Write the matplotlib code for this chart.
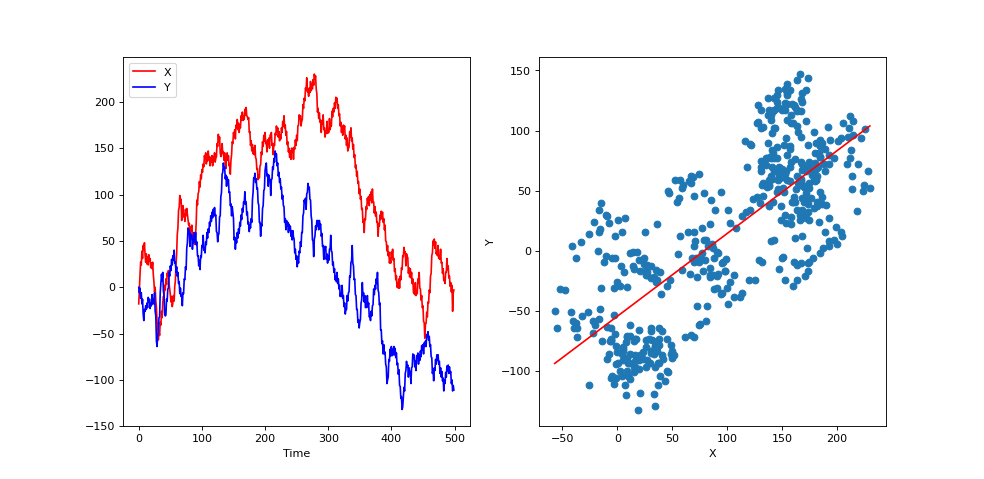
from matplotlib import pyplot as plt
import numpy as np

# random walk values, one per time step
x_walk = [
    -18, -2, 14, 27, 24, 39, 31, 45, 40, 48,
    35, 27, 36, 25, 33, 24, 35, 28, 31, 21,
    26, 20, 27, 14, 6, -5, 0, -15, -22, -37,
    -42, -57, -48, -52, -38, -41, -26, -33, -17, -10,
    -12, 2, -3, 9, 3, 15, 12, 18, 4, -2,
    -8, -16, -10, -21, -17, -9, -15, 1, 7, 25,
    36, 57, 64, 83, 86, 99, 91, 95, 72, 84,
    88, 76, 79, 71, 84, 77, 85, 79, 74, 67,
    69, 56, 65, 60, 67, 54, 59, 47, 53, 46,
    57, 70, 94, 89, 101, 103, 114, 108, 121, 117,
    127, 124, 133, 130, 142, 138, 145, 133, 139, 136,
    147, 138, 141, 131, 140, 135, 142, 131, 141, 136,
    145, 135, 139, 141, 155, 152, 165, 157, 162, 145,
    141, 143, 155, 145, 146, 137, 145, 131, 128, 140,
    145, 137, 142, 131, 133, 122, 137, 143, 157, 155,
    167, 163, 170, 160, 175, 172, 181, 170, 177, 167,
    175, 172, 185, 180, 189, 180, 185, 181, 192, 186,
    194, 185, 184, 181, 183, 167, 168, 153, 158, 147,
    154, 144, 150, 143, 153, 140, 138, 127, 128, 116,
    121, 118, 131, 132, 146, 143, 157, 152, 164, 158,
    167, 155, 157, 146, 159, 155, 161, 150, 164, 165,
    167, 153, 155, 143, 155, 153, 166, 164, 174, 168,
    172, 162, 168, 158, 164, 160, 172, 167, 179, 174,
    185, 172, 175, 164, 168, 154, 157, 146, 150, 140,
    147, 138, 150, 146, 150, 138, 151, 149, 159, 153,
    164, 158, 174, 175, 186, 182, 185, 174, 179, 181,
    197, 193, 204, 201, 215, 213, 226, 211, 212, 206,
    215, 210, 222, 212, 219, 214, 224, 218, 230, 225,
    228, 214, 209, 189, 193, 182, 188, 178, 180, 167,
    180, 176, 186, 170, 172, 162, 168, 166, 179, 166,
    168, 167, 182, 170, 175, 174, 190, 184, 193, 189,
    199, 193, 205, 200, 204, 193, 197, 185, 187, 174,
    178, 167, 173, 164, 175, 171, 174, 160, 164, 153,
    161, 147, 150, 151, 168, 162, 172, 158, 161, 149,
    154, 140, 143, 129, 132, 120, 125, 112, 114, 101,
    106, 95, 98, 84, 85, 70, 72, 59, 74, 73,
    87, 84, 96, 91, 98, 88, 100, 94, 103, 91,
    106, 92, 92, 80, 87, 77, 81, 70, 70, 55,
    68, 66, 78, 73, 82, 75, 81, 70, 74, 62,
    67, 50, 49, 39, 45, 34, 38, 26, 31, 26,
    38, 32, 41, 29, 31, 17, 20, 8, 12, 0,
    5, -1, 9, -1, 12, 8, 21, 19, 34, 33,
    43, 37, 38, 23, 36, 33, 32, 15, 21, 11,
    20, 10, 16, 4, 9, -6, -6, -8, 5, -9,
    -6, -7, 9, 5, 16, -1, -2, -14, -9, -22,
    -20, -37, -38, -55, -40, -39, -27, -32, -16, -17,
    -3, -6, 12, 15, 34, 37, 50, 46, 52, 42,
    49, 36, 38, 34, 45, 31, 34, 30, 41, 26,
    27, 15, 20, 7, 9, 4, 16, 16, 31, 19,
    23, 10, 12, 1, 5, -5, 2, -26, -6, -3,
]

y_walk = [
    0, -6, -1, -12, -6, -18, -13, -29, -36, -24,
    -26, -20, -24, -17, -22, -11, -16, -13, -23, -17,
    -20, -8, -18, -13, -18, -6, -26, -31, -58, -64,
    -51, -50, -33, -32, -6, 4, 14, 7, 16, -4,
    -9, -29, -31, -30, -13, -15, -2, -1, 16, 12,
    23, 18, 30, 24, 34, 29, 40, 26, 27, 16,
    22, 12, 16, 4, 6, -7, -1, -10, -8, -20,
    -6, -7, 9, 8, 22, 19, 42, 48, 64, 62,
    61, 44, 58, 55, 56, 41, 52, 48, 59, 50,
    59, 46, 49, 34, 34, 23, 29, 19, 34, 32,
    45, 43, 56, 40, 41, 37, 49, 46, 59, 53,
    63, 59, 70, 66, 77, 71, 81, 75, 84, 77,
    86, 77, 78, 60, 59, 49, 56, 58, 76, 77,
    98, 102, 122, 124, 134, 127, 130, 117, 121, 109,
    119, 113, 116, 102, 103, 88, 90, 77, 87, 80,
    74, 51, 54, 41, 52, 48, 59, 53, 63, 58,
    70, 66, 78, 73, 85, 81, 92, 90, 103, 90,
    92, 78, 81, 68, 70, 60, 67, 64, 74, 70,
    94, 102, 118, 117, 123, 113, 117, 106, 107, 91,
    89, 70, 70, 55, 68, 66, 85, 88, 104, 106,
    126, 131, 134, 120, 122, 109, 121, 117, 116, 99,
    116, 117, 130, 127, 139, 135, 147, 142, 144, 131,
    134, 120, 124, 113, 117, 106, 108, 95, 99, 88,
    87, 70, 74, 62, 72, 66, 70, 59, 68, 62,
    66, 55, 61, 51, 61, 54, 52, 37, 41, 30,
    34, 22, 32, 26, 39, 37, 49, 44, 59, 59,
    77, 80, 94, 91, 96, 84, 101, 102, 112, 106,
    108, 95, 94, 77, 72, 51, 50, 33, 52, 55,
    66, 62, 72, 66, 72, 62, 72, 66, 68, 55,
    58, 44, 45, 30, 44, 41, 44, 30, 36, 26,
    34, 29, 41, 41, 56, 39, 38, 24, 27, 16,
    20, 8, 12, 6, 16, 4, 9, -2, 2, -10,
    -6, -10, 2, -12, -9, -21, -17, -29, -24, -24,
    -9, -15, -6, -5, 12, 11, 27, 28, 45, 26,
    23, 8, 9, -8, -9, -24, -24, -38, -35, -44,
    -38, -35, -17, -14, 5, -9, -6, -16, -9, -22,
    -20, -22, -9, -21, -17, -32, -31, -36, -26, -31,
    -20, -19, -2, -8, 2, -2, 9, 4, 16, -3,
    -6, -19, -17, -46, -46, -61, -58, -72, -62, -72,
    -70, -83, -86, -104, -100, -97, -78, -80, -67, -74,
    -64, -74, -67, -73, -64, -73, -66, -76, -71, -84,
    -82, -94, -89, -106, -107, -120, -118, -132, -129, -119,
    -108, -112, -93, -90, -80, -86, -84, -97, -87, -93,
    -91, -104, -87, -86, -72, -75, -73, -86, -80, -90,
    -74, -75, -71, -83, -73, -79, -69, -75, -63, -68,
    -62, -72, -60, -64, -58, -64, -51, -54, -48, -57,
    -53, -64, -62, -75, -76, -93, -89, -101, -87, -90,
    -78, -83, -73, -79, -73, -83, -80, -93, -87, -97,
    -91, -101, -98, -112, -100, -104, -92, -97, -85, -90,
    -84, -93, -86, -93, -91, -104, -100, -112, -106, -111,
]

X = np.array(x_walk)
Y = np.array(y_walk)
time = np.arange(len(X))

plt.figure(figsize=(12.3, 5.99), dpi=80)

plt.subplot(1, 2, 1)
plt.plot(time, X, color='red', label='X')
plt.plot(time, Y, color='blue', label='Y')
plt.xlabel('Time')
plt.legend(loc='upper left')

plt.subplot(1, 2, 2)
plt.scatter(X, Y)
slope, intercept = np.polyfit(X, Y, 1)
line_x = np.array([X.min(), X.max()])
plt.plot(line_x, slope * line_x + intercept, color='red')
plt.xlabel('X')
plt.ylabel('Y')

plt.savefig('out.png')
